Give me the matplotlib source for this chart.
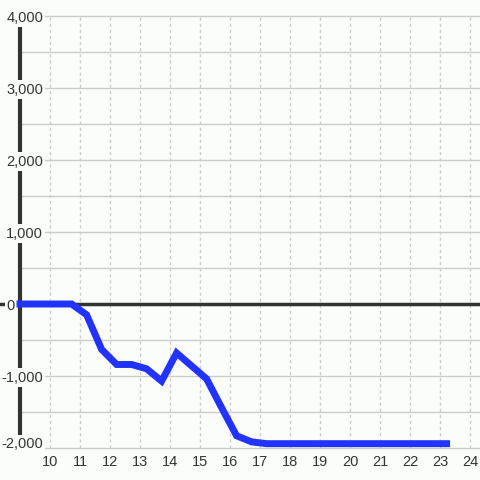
import matplotlib
matplotlib.use("Agg")
import matplotlib.pyplot as plt

# data
hours = [9.0, 9.72, 10.22, 10.72, 11.22, 11.72, 12.22, 12.72, 13.22, 13.72,
         14.22, 14.72, 15.22, 15.72, 16.22, 16.72, 17.22, 17.72, 18.22, 18.72,
         19.22, 19.72, 20.22, 20.72, 21.22, 21.72, 22.22, 22.72, 23.22]
values = [0, 0, 0, 0, -150, -630, -840, -840, -900, -1070,
          -680, -860, -1040, -1440, -1830, -1915, -1940, -1940, -1940, -1940,
          -1940, -1940, -1940, -1940, -1940, -1940, -1940, -1940, -1940]

y_ticks = [4000, 3000, 2000, 1000, 0, -1000, -2000]
y_labels = ["4,000", "3,000", "2,000", "1,000", "0", "-1,000", "-2,000"]
y_grid = [4000, 3500, 3000, 2500, 2000, 1500, 1000, 500, 0, -500, -1000, -1500, -2000]
x_ticks = list(range(10, 25))

text_col = "#333333"
grid_col = "#cccccc"
bg = "#fbfdfb"

plt.rcParams["font.family"] = ["Liberation Sans", "DejaVu Sans"]

fig = plt.figure(figsize=(4.8, 4.8), dpi=100, facecolor=bg)
ax = fig.add_axes([0, 32 / 480, 1, 432 / 480])
ax.set_facecolor(bg)
ax.set_xlim(9 - 20 / 30, 24 + 10 / 30)
ax.set_ylim(-2000, 4000)
for s in ax.spines.values():
    s.set_visible(False)

# grid
ax.hlines(y_grid, 9, 24 + 10 / 30, color=grid_col, lw=1, zorder=1, clip_on=False)
ax.vlines(x_ticks, -2000, 4000, color=grid_col, lw=1, linestyles=(0, (2.2, 2.2)),
          zorder=1, clip_on=False)

# axis lines
ax.plot([9, 9], [-2000, 4000], color=text_col, lw=3, zorder=2,
        solid_capstyle="butt", clip_on=False)
ax.axhline(0, xmin=0, xmax=1, color=text_col, lw=2.5, zorder=2)

# series
ax.plot(hours, values, color="#2233ff", lw=5, zorder=4,
        solid_capstyle="projecting", solid_joinstyle="miter", clip_on=False)

# y labels sit inside the plot with a background box
for v, lab in zip(y_ticks, y_labels):
    if v == 0:
        x, ha = 9 - 5 / 30, "right"
    else:
        x, ha = 9 + 23 / 30, "right"
    va = "baseline" if v == -2000 else "center_baseline"
    ax.text(x, v, lab, ha=ha, va=va, fontsize=10.5, color=text_col, zorder=3,
            bbox=dict(boxstyle="square,pad=0.15", fc=bg, ec="none"))

ax.set_yticks([])
ax.set_xticks(x_ticks)
ax.set_xticklabels([str(t) for t in x_ticks])
ax.tick_params(axis="x", length=0, pad=5, labelsize=10.5, labelcolor=text_col)

fig.savefig("out.png", dpi=100, facecolor=bg)
